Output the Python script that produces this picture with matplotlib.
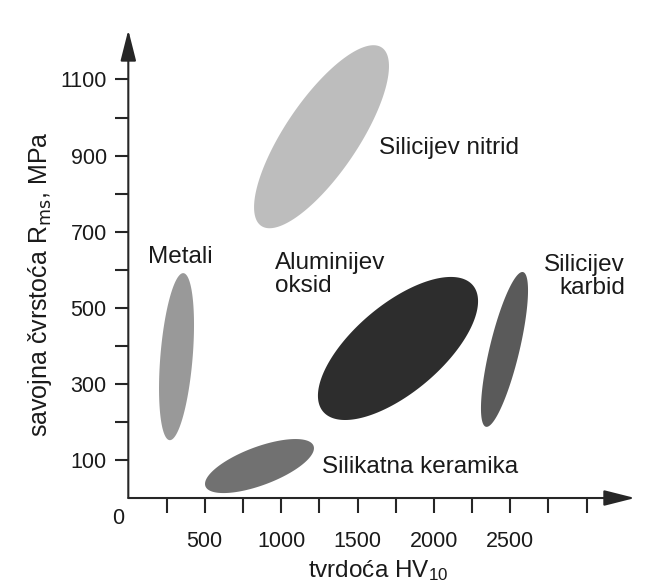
import numpy as np
from matplotlib import pyplot as plt

# material regions: hardness HV10 range, bending strength range (MPa), tilt (correlation)
materials = ['Silicijev nitrid', 'Metali', 'Aluminijev oksid', 'Silicijev karbid', 'Silikatna keramika']
hv_min = [823, 201, 1241, 2308, 502]
hv_max = [1706, 430, 2289, 2616, 1215]
rm_min = [709, 152, 205, 187, 13]
rm_max = [1190, 591, 581, 594, 155]
tilt = [0.77, 0.38, 0.66, 0.76, 0.66]
fill_colors = ['#bdbdbd', '#999999', '#2d2d2d', '#5a5a5a', '#717171']

# labels placed next to the regions
label_texts = ['Silicijev nitrid', 'Metali', 'Aluminijev\noksid', 'Silicijev\nkarbid', 'Silikatna keramika']
label_x = [1641, 130, 960, 3251, 1268]
label_y = [904, 617, 541, 536, 66]
label_ha = ['left', 'left', 'left', 'right', 'left']

x_ticks = [250, 500, 750, 1000, 1250, 1500, 1750, 2000, 2250, 2500, 2750, 3000]
x_tick_labels = ['', '500', '', '1000', '', '1500', '', '2000', '', '2500', '', '']
y_ticks = [100, 200, 300, 400, 500, 600, 700, 800, 900, 1000, 1100]
y_tick_labels = ['100', '', '300', '', '500', '', '700', '', '900', '', '1100']

plt.rcParams['font.family'] = ['Liberation Sans', 'DejaVu Sans']
plt.rcParams['mathtext.default'] = 'regular'
text_color = '#1a1a1a'
axis_color = '#262626'

fig = plt.figure(figsize=(6.49, 5.87), dpi=100)
ax = fig.add_axes([0.1977, 0.1516, 0.7807, 0.7973])
ax.set_xlim(0, 3316)
ax.set_ylim(0, 1230)

t = np.linspace(0, 2 * np.pi, 300)
for lo_x, hi_x, lo_y, hi_y, rho, color in zip(hv_min, hv_max, rm_min, rm_max, tilt, fill_colors):
    cx, cy = (lo_x + hi_x) / 2, (lo_y + hi_y) / 2
    rx, ry = (hi_x - lo_x) / 2, (hi_y - lo_y) / 2
    xs = cx + rx * np.cos(t)
    ys = cy + ry * (rho * np.cos(t) + np.sqrt(1 - rho ** 2) * np.sin(t))
    ax.fill(xs, ys, color=color, lw=0, zorder=2)

for txt, x, y, ha in zip(label_texts, label_x, label_y, label_ha):
    ax.text(x, y, txt, ha=ha, va='baseline', multialignment=ha, fontsize=17.5,
            color=text_color, linespacing=1.05, zorder=3)

for s in ax.spines.values():
    s.set_visible(False)

arrow = dict(arrowstyle='-|>,head_length=0.95,head_width=0.24', color=axis_color, lw=1.5,
             shrinkA=0, shrinkB=0, mutation_scale=20)
ax.annotate('', xy=(1, 0), xytext=(0, 0), xycoords='axes fraction', arrowprops=arrow,
            annotation_clip=False)
ax.annotate('', xy=(0, 1), xytext=(0, 0), xycoords='axes fraction', arrowprops=arrow,
            annotation_clip=False)

ax.set_xticks(x_ticks)
ax.set_xticklabels(x_tick_labels)
ax.set_yticks(y_ticks)
ax.set_yticklabels(y_tick_labels)
ax.tick_params(axis='x', direction='out', length=11, width=1.5, color=axis_color, pad=13,
               labelsize=15.5, labelcolor=text_color)
ax.tick_params(axis='y', direction='out', length=9.5, width=1.5, color=axis_color, pad=6,
               labelsize=15.5, labelcolor=text_color)

ax.annotate('0', xy=(0, 0), xytext=(-7.5, -14.5), textcoords='offset points',
            ha='center', va='center', fontsize=15.5, color=text_color, annotation_clip=False)

fig.text(378 / 649, 1 - 571 / 587, 'tvrdoća HV$_{10}$', ha='center', va='center',
         fontsize=17.5, color=text_color)
fig.text(40 / 649, 1 - 284 / 587, 'savojna čvrstoća R$_{\\mathrm{ms}}$, MPa', ha='center',
         va='center', rotation=90, fontsize=18, color=text_color)

fig.savefig('out.png', dpi=100)
